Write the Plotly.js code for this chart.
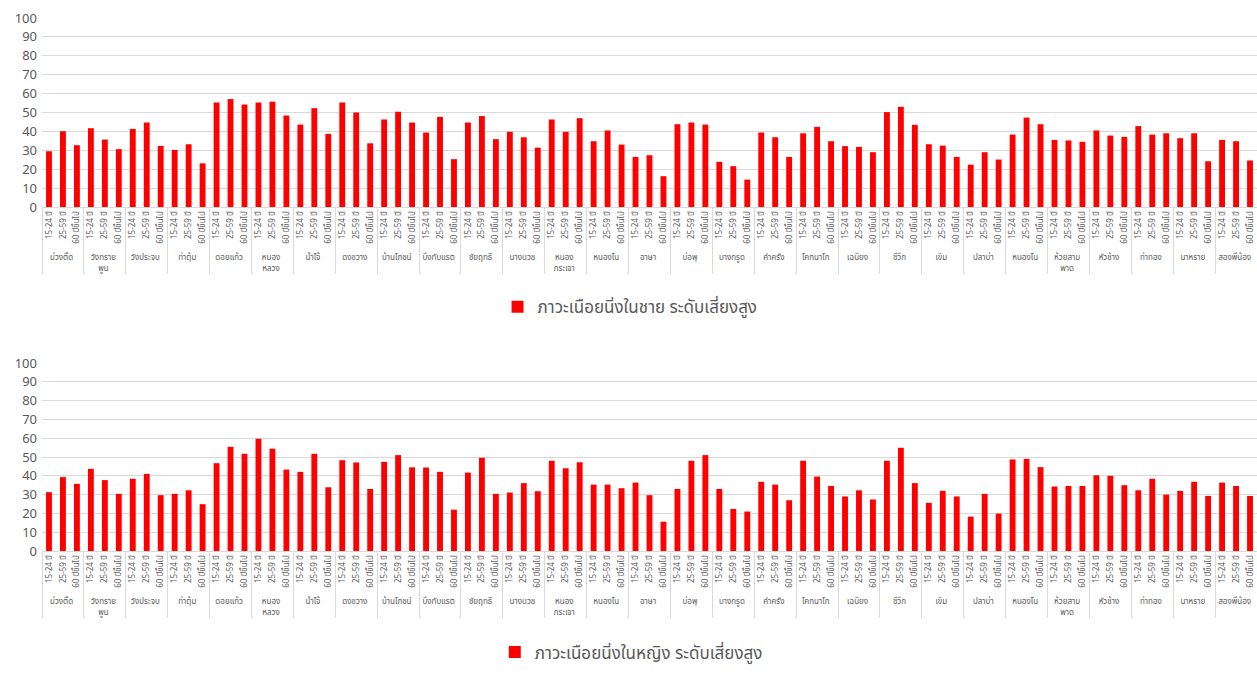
<!DOCTYPE html>
<html>
<head>
<meta charset="utf-8">
<script src="https://cdn.plot.ly/plotly-3.0.1.min.js"></script>
<style>
  html, body { margin: 0; padding: 0; background: #fff; }
  #top, #bottom { width: 1257px; }
  #top { height: 337px; }
  #bottom { height: 338px; }
</style>
</head>
<body>
<div id="top"></div>
<div id="bottom"></div>
<script>
const groups = [
  "ม่วงตี้ด", "วังทราย<br>พูน", "วังประจบ", "ท่าตุ้ม", "ดอยแก้ว", "หนอง<br>หลวง",
  "น้ำโจ้", "ดงขวาง", "บ้านโภชน์", "บึงทับแรต", "ชัยฤทธิ์", "นางบวช",
  "หนอง<br>กระเจา", "หนองโน", "อาษา", "บ่อพุ", "บางกรูด", "คำครั่ง",
  "โคกนาโก", "เฉนียง", "ซีวีก", "เขิม", "ปลาบ่า", "หนองโน\u200b",
  "ห้วยสาม<br>พาด", "หัวช้าง", "ท่าทอง", "นาหราย", "สองพี่น้อง"
];
const ages = ["15-24 ปี", "25-59 ปี", "60 ปีขึ้นไป"];

// men, high-risk sedentary (%), per group: [15-24, 25-59, 60+]
const menValues = [
  29.5, 40.1, 32.7,
  41.7, 35.7, 30.6,
  41.3, 44.7, 32.3,
  30.2, 33.2, 23.1,
  55.3, 57.1, 54.2,
  55.3, 55.7, 48.4,
  43.6, 52.3, 38.7,
  55.3, 50.0, 33.7,
  46.3, 50.4, 44.7,
  39.4, 47.7, 25.3,
  44.7, 48.1, 35.9,
  39.8, 36.9, 31.4,
  46.3, 39.8, 47.0,
  34.8, 40.5, 33.0,
  26.5, 27.4, 16.3,
  43.8, 44.7, 43.6,
  23.9, 21.6, 14.5,
  39.4, 36.9, 26.5,
  39.0, 42.4, 34.8,
  32.2, 31.8, 29.0,
  50.2, 53.0, 43.5,
  33.2, 32.5, 26.5,
  22.4, 29.0, 25.1,
  38.3, 47.3, 43.8,
  35.5, 35.2, 34.5,
  40.5, 37.8, 37.1,
  42.8, 38.3, 39.0,
  36.4, 39.0, 24.2,
  35.5, 34.8, 24.6
];

// women, high-risk sedentary (%), per group: [15-24, 25-59, 60+]
const womenValues = [
  31.3, 39.3, 35.7,
  43.7, 37.7, 30.4,
  38.4, 41.0, 29.7,
  30.4, 32.3, 24.9,
  46.7, 55.4, 51.7,
  59.7, 54.4, 43.3,
  42.1, 51.7, 33.9,
  48.3, 47.1, 33.0,
  47.4, 51.0, 44.5,
  44.4, 42.1, 22.0,
  41.7, 49.6, 30.4,
  31.1, 36.1, 31.8,
  48.0, 44.0, 47.2,
  35.3, 35.3, 33.4,
  36.4, 29.7, 15.6,
  33.0, 48.0, 51.0,
  33.0, 22.4, 21.0,
  36.8, 35.3, 27.0,
  48.0, 39.6, 34.6,
  29.0, 32.3, 27.4,
  48.0, 54.9, 36.1,
  25.6, 32.0, 29.0,
  18.3, 30.4, 19.9,
  48.7, 49.0, 44.6,
  34.3, 34.6, 34.6,
  40.3, 40.0, 35.0,
  32.3, 38.4, 30.0,
  32.0, 36.8, 29.3,
  36.4, 34.6, 29.3
];

const seriesNames = ["ภาวะเนือยนิ่งในชาย ระดับเสี่ยงสูง", "ภาวะเนือยนิ่งในหญิง ระดับเสี่ยงสูง"];
const yTicks = [0, 10, 20, 30, 40, 50, 60, 70, 80, 90, 100];

const outer = [], inner = [];
groups.forEach(g => ages.forEach(a => { outer.push(g); inner.push(a); }));

const FONT = "'Noto Sans', 'Noto Sans Thai', 'Liberation Sans', sans-serif";
const GRAY = "#595959";

function makeChart(id, values, name, marginTop, marginBottom, legendY, legendX) {
  const trace = {
    type: "bar",
    x: [outer, inner],
    y: values,
    name: name,
    marker: { color: "#ff0000" },
    showlegend: true,
    hoverinfo: "x+y"
  };
  const layout = {
    width: 1257,
    height: id === "top" ? 337 : 338,
    margin: { l: 42, r: 0, t: marginTop, b: marginBottom },
    paper_bgcolor: "#ffffff",
    plot_bgcolor: "#ffffff",
    bargap: 0.58,
    font: { family: FONT, color: GRAY },
    xaxis: {
      type: "multicategory",
      range: [-0.5, 86.5],
      autorange: false,
      tickangle: -90,
      tickfont: { size: 8, color: GRAY, family: FONT },
      showline: true,
      linecolor: "#d9d9d9",
      linewidth: 1,
      showgrid: false,
      ticks: "",
      showdividers: true,
      dividercolor: "#d9d9d9",
      dividerwidth: 1
    },
    yaxis: {
      range: [0, 100],
      autorange: false,
      tickvals: yTicks,
      ticktext: yTicks.map(String),
      tickfont: { size: 13, color: GRAY, family: FONT },
      showgrid: true,
      gridcolor: "#d9d9d9",
      gridwidth: 1,
      zeroline: false,
      showline: false,
      ticks: "",
      ticklabelstandoff: 4
    },
    legend: {
      orientation: "h",
      x: legendX,
      xanchor: "center",
      y: legendY,
      yanchor: "middle",
      font: { size: 17, color: GRAY, family: FONT },
      itemwidth: 30
    },
    showlegend: true
  };
  Plotly.newPlot(id, [trace], layout, { displayModeBar: false, staticPlot: true });
}

makeChart("top", menValues, seriesNames[0], 18, 130, -0.53, 0.484);
makeChart("bottom", womenValues, seriesNames[1], 26, 124, -0.54, 0.485);
</script>
</body>
</html>
